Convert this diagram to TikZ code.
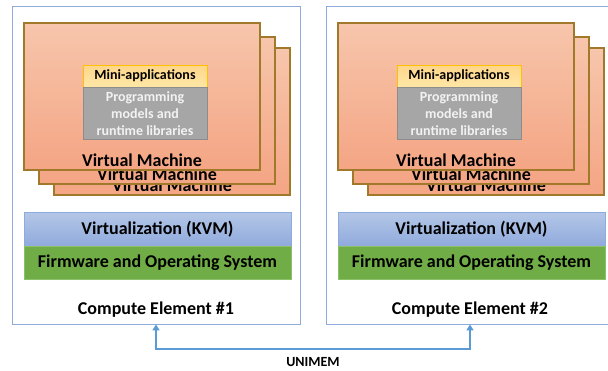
\documentclass[tikz,border=0pt]{standalone}
\usepackage{fontspec}
\setmainfont{Carlito}
\usetikzlibrary{positioning,arrows.meta}
\definecolor{ceblue}{HTML}{8FAADC}
\definecolor{vmline}{HTML}{A07A2A}
\definecolor{vmtop}{HTML}{F7C6AC}
\definecolor{vmbottom}{HTML}{F4A584}
\definecolor{minitop}{HTML}{FFD68A}
\definecolor{minibottom}{HTML}{FFE7A6}
\definecolor{miniline}{HTML}{FFC000}
\definecolor{libfill}{HTML}{A6A6A6}
\definecolor{libline}{HTML}{8C8C8C}
\definecolor{libtext}{HTML}{F2F2F2}
\definecolor{kvmtop}{HTML}{B4C7E7}
\definecolor{kvmbottom}{HTML}{8FAADC}
\definecolor{osfill}{HTML}{70AD47}
\definecolor{osline}{HTML}{8CC16A}
\definecolor{linkblue}{HTML}{5B9BD5}
\tikzset{
   element/.style={draw=ceblue, line width=0.8pt, minimum width=288pt, minimum height=318pt},
   vmbox/.style={draw=vmline, line width=1.2pt, top color=vmtop, bottom color=vmbottom,
      minimum width=236pt, minimum height=147pt},
   vmtext/.style={font=\bfseries\fontsize{18}{20}\selectfont, anchor=base, inner sep=0pt, yshift=4.5pt},
   minibox/.style={draw=miniline, line width=0.8pt, top color=minitop, bottom color=minibottom,
      minimum width=124pt, minimum height=22pt, inner sep=0pt, font=\bfseries\fontsize{14}{16}\selectfont},
   libbox/.style={draw=libline, line width=0.6pt, fill=libfill, text=libtext, align=center,
      minimum width=124pt, minimum height=52pt, inner sep=0pt, font=\bfseries\fontsize{14}{17}\selectfont},
   kvmbox/.style={draw=kvmbottom, line width=0.6pt, top color=kvmtop, bottom color=kvmbottom,
      minimum width=267pt, minimum height=34pt, inner sep=0pt, font=\bfseries\fontsize{18}{20}\selectfont},
   osbox/.style={draw=osline, line width=0.6pt, fill=osfill,
      minimum width=267pt, minimum height=33pt, inner sep=0pt, font=\bfseries\fontsize{18}{20}\selectfont},
   celabel/.style={font=\bfseries\fontsize{18}{20}\selectfont, inner sep=0pt},
   link/.style={draw=linkblue, line width=2pt, {Triangle[length=6pt,width=7pt]}-{Triangle[length=6pt,width=7pt]}}
}
\begin{document}
\begin{tikzpicture}[x=1pt,y=-1pt]
   \useasboundingbox (0,0) rectangle (608,370);
   \clip (0,0) rectangle (608,370);
   \foreach \n / \dx in {1/0, 2/314} {
      \begin{scope}[xshift=\dx pt]
         \node[element] (ce\n) at (156,165) {};
         % three stacked virtual machines, back one first
         \foreach \lay / \x / \y in {c/172/121.5, b/157/110.5, a/142/96.5} {
            \node[vmbox] (vm\lay\n) at (\x,\y) {};
            \node[vmtext] (vmt\lay\n) at (vm\lay\n.south) {Virtual Machine};
         }
         \node[minibox] (mini\n) at (145,76) {Mini-applications};
         \node[libbox, below=0pt of mini\n] (lib\n) {Programming\\models and\\runtime libraries};
         \node[kvmbox] (kvm\n) at (157.5,229) {Virtualization (KVM)};
         \node[osbox, below=0pt of kvm\n] (os\n) {Firmware and Operating System};
         \node[celabel] (cel\n) at (156,310) {Compute Element \#\n};
      \end{scope}
   }
   \coordinate (bus) at (313,349);
   \draw[link] (ce1.south) |- (bus) -| (ce2.south);
   \node[celabel, font=\bfseries\fontsize{14}{16}\selectfont] (unimem) at (313,362) {UNIMEM};
\end{tikzpicture}
\end{document}
